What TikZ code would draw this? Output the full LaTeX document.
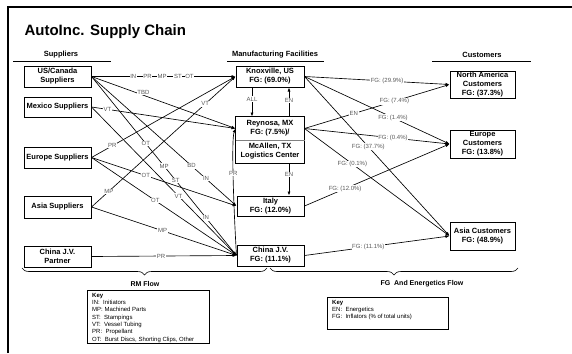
\documentclass[tikz,border=0pt]{standalone}
\usepackage{fontspec}
\setmainfont{Liberation Sans}
\usetikzlibrary{arrows.meta,decorations.pathreplacing}

\tikzset{
  box/.style={draw, line width=1pt, minimum width=67pt, inner sep=1pt, align=center, font=\fontsize{7.5}{9}\selectfont\bfseries},
  flow/.style={-{Latex[length=4pt,width=3pt]}, line width=0.65pt},
  lbl/.style={fill=white, text=black!65, inner sep=0.6pt, font=\fontsize{6}{6}\selectfont},
  head/.style={font=\fontsize{7.5}{9}\selectfont\bfseries},
  keytext/.style={anchor=north west, align=left, inner sep=0pt, font=\fontsize{6}{7.3}\selectfont},
}

\begin{document}
\begin{tikzpicture}[x=1pt,y=1pt,yscale=-1]
        \useasboundingbox (0,0) rectangle (572,353);

        %Shape: Frame
        \draw [line width=2pt] (8,353) -- (8,7) -- (572,7) ;

        % Text Node
        \node [anchor=west, font=\fontsize{15}{18}\selectfont\bfseries] (title) at (21,32) {AutoInc. Supply Chain};

        % Column heads
        \node [head] (hsup) at (61,55) {Suppliers};
        \node [head] (hfac) at (275,55) {Manufacturing Facilities};
        \node [head] (hcus) at (482,55) {Customers};
        \draw [line width=0.8pt] (13,61) -- (111,61) ;
        \draw [line width=0.8pt] (227,61) -- (324,61) ;
        \draw [line width=0.8pt] (432,61) -- (531,61) ;

        % Suppliers
        \node [box, minimum height=21pt] (usca) at (57.5,76.5) {US/Canada\\Suppliers};
        \node [box, minimum height=20pt] (mex) at (57.5,107) {Mexico Suppliers};
        \node [box, minimum height=21pt] (eur) at (57.5,157.5) {Europe Suppliers};
        \node [box, minimum height=22pt] (asia) at (57.5,207) {Asia Suppliers};
        \node [box, minimum height=21pt] (cjvp) at (57.5,256.5) {China J.V.\\Partner};

        % Manufacturing facilities
        \node [box, minimum width=68pt, minimum height=21pt] (knox) at (270,76.5) {Knoxville, US\\FG: (69.0\%)};
        \node [box, minimum width=68pt, minimum height=23pt, draw=none] (reyn) at (270,128.5) {Reynosa, MX\\FG: (7.5\%)/};
        \node [box, minimum width=68pt, minimum height=23pt, draw=none] (mcal) at (270,151.5) {McAllen, TX\\Logistics Center};
        \draw [line width=1pt] (reyn.north west) rectangle (mcal.south east) ;
        \draw [black!50, line width=0.8pt] (reyn.south west) -- (reyn.south east) ;
        \node [box, minimum height=20pt] (italy) at (270.5,206) {Italy\\FG: (12.0\%)};
        \node [box, minimum height=21pt] (cjv) at (270.5,255.5) {China J.V.\\FG: (11.1\%)};

        % Customers
        \node [box, minimum width=65pt, minimum height=27pt] (na) at (482.5,84.5) {North America\\Customers\\FG: (37.3\%)};
        \node [box, minimum width=65pt, minimum height=28pt] (euc) at (482.5,144) {Europe\\Customers\\FG: (13.8\%)};
        \node [box, minimum width=65pt, minimum height=28pt] (asc) at (482.5,236) {Asia Customers\\FG: (48.9\%)};

        % RM flow
        \draw [flow] (usca.east) -- (knox.west) node [lbl, pos=0.29] {IN} node [lbl, pos=0.39] {PR} node [lbl, pos=0.49] {MP} node [lbl, pos=0.6] {ST} node [lbl, pos=0.68] {OT} ;
        \draw [flow] (usca.east) -- (reyn.west) node [lbl, pos=0.36, yshift=3pt] {TBD} ;
        \draw [flow] (usca.east) -- (italy.west) node [lbl, pos=0.69] {BD} node [lbl, pos=0.79] {IN} ;
        \draw [flow] (usca.east) -- (cjv.west) node [lbl, pos=0.375] {OT} node [lbl, pos=0.5] {MP} node [lbl, pos=0.58] {ST} node [lbl, pos=0.79] {IN} ;
        \draw [flow] (mex.east) -- (reyn.west) node [lbl, pos=0.11] {VT} ;
        \draw [flow] (mex.east) -- (cjv.west) node [lbl, pos=0.6] {VT} ;
        \draw [flow] (eur.east) -- (knox.west) node [lbl, pos=0.145] {PR} ;
        \draw [flow] (eur.east) -- (italy.west) node [lbl, pos=0.375] {OT} ;
        \draw [flow] (eur.east) -- (cjv.west) node [lbl, pos=0.44] {OT} ;
        \draw [flow] (asia.east) -- (knox.west) node [lbl, pos=0.12] {MP} node [lbl, pos=0.79] {VT} ;
        \draw [flow] (asia.east) -- (cjv.west) node [lbl, pos=0.49] {MP} ;
        \draw [flow] (cjvp.east) -- (cjv.west) node [lbl, pos=0.48] {PR} ;
        \draw [flow] (cjv.west) .. controls (234,215) and (231,140) .. (reyn.west) node [lbl, pos=0.55] {PR} ;

        % Between facilities
        \draw [flow] ([xshift=-18pt]knox.south) -- ([xshift=-18pt]reyn.north) node [lbl, pos=0.4] {ALL} ;
        \draw [flow] ([xshift=19pt]reyn.north) -- ([xshift=19pt]knox.south) node [lbl, pos=0.55] {EN} ;
        \draw [flow] ([xshift=19pt]mcal.south) -- ([xshift=18.5pt]italy.north) node [lbl, pos=0.35] {EN} ;

        % FG flow
        \draw [flow] (knox.east) -- (na.west) node [lbl, pos=0.57] {FG: (29.9\%)} ;
        \draw [flow] (knox.east) -- (euc.west) node [lbl, pos=0.61] {FG: (1.4\%)} ;
        \draw [flow] (knox.east) -- (asc.west) node [lbl, pos=0.44] {FG: (37.7\%)} ;
        \draw [flow] (reyn.east) -- (na.west) node [lbl, pos=0.34] {EN} node [lbl, pos=0.62] {FG: (7.4\%)} ;
        \draw [flow] (reyn.east) -- (euc.west) node [lbl, pos=0.61] {FG: (0.4\%)} ;
        \draw [flow] (reyn.east) -- (asc.west) node [lbl, pos=0.33] {FG: (0.1\%)} ;
        \draw [flow] (italy.east) -- (euc.west) node [lbl, pos=0.28] {FG: (12.0\%)} ;
        \draw [flow] (cjv.east) -- (asc.west) node [lbl, pos=0.44] {FG: (11.1\%)} ;

        % Braces
        \draw [line width=0.6pt, decorate, decoration={brace, mirror, amplitude=7pt}] (22,268) -- (267,268) ;
        \draw [line width=0.6pt, decorate, decoration={brace, mirror, amplitude=7pt}] (270,268) -- (518,268) ;
        \node [head, font=\fontsize{7}{8}\selectfont\bfseries] (rmflow) at (145,284) {RM Flow};
        \node [head, font=\fontsize{7}{8}\selectfont\bfseries] (fgflow) at (422,284) {FG\ \ And Energetics Flow};

        % Keys
        \draw [line width=0.8pt] (87,290) rectangle (209,343) ;
        \node [keytext] (keyrm) at (92,293) {\textbf{Key}\\IN:\ \ Initiators\\MP: Machined Parts\\ST:\ \ Stampings\\VT:\ \ Vessel Tubing\\PR:\ \ Propellant\\OT:\ \ Burst Discs, Shorting Clips, Other};
        \draw [line width=0.8pt] (327,297) rectangle (448,329) ;
        \node [keytext] (keyfg) at (332,300) {\textbf{Key}\\EN:\ \ Energetics\\FG:\ \ Inflators (\% of total units)};

\end{tikzpicture}
\end{document}
